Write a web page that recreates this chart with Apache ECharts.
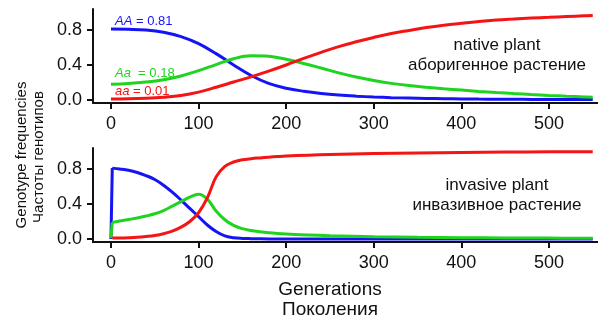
<!DOCTYPE html>
<html lang="en">
<head>
    <meta charset="UTF-8">
    <title>Genotype frequencies</title>
    <script src="https://cdn.jsdelivr.net/npm/echarts@6/dist/echarts.min.js"></script>
    <style>
        html, body { margin: 0; padding: 0; background: #fff; }
    </style>
</head>
<body>
<div id="chart" style="width: 598px;height:320px;"></div>

<script type="text/javascript">
    // native plant (top panel)
    var nativeGen = [0, 20, 40, 60, 80, 100, 120, 140, 160, 180, 200, 220, 240, 260, 280, 300, 320, 340, 360, 380, 400, 420, 440, 460, 480, 500, 520, 540, 550];
    var nativeAA = [0.81, 0.808, 0.80, 0.775, 0.725, 0.645, 0.53, 0.40, 0.28, 0.19, 0.135, 0.10, 0.075, 0.057, 0.044, 0.034, 0.027, 0.022, 0.018, 0.015, 0.012, 0.010, 0.009, 0.008, 0.007, 0.006, 0.005, 0.005, 0.005];
    var nativeAa = [0.18, 0.188, 0.205, 0.232, 0.275, 0.335, 0.405, 0.472, 0.505, 0.50, 0.465, 0.418, 0.365, 0.31, 0.262, 0.222, 0.19, 0.165, 0.145, 0.128, 0.113, 0.098, 0.085, 0.073, 0.062, 0.052, 0.043, 0.035, 0.031];
    var nativeaa = [0.01, 0.013, 0.02, 0.032, 0.052, 0.09, 0.145, 0.205, 0.265, 0.33, 0.40, 0.475, 0.545, 0.61, 0.665, 0.715, 0.76, 0.795, 0.828, 0.855, 0.877, 0.897, 0.913, 0.925, 0.936, 0.945, 0.954, 0.962, 0.965];

    // invasive plant (bottom panel); the first generation jumps from the start values
    var invStartGen = [0, 1.5];
    var invStartAA = [0.0, 0.81];
    var invStartAa = [0.01, 0.19];
    var invGen = [1.5, 10, 20, 30, 40, 50, 60, 70, 80, 90, 100, 110, 120, 130, 140, 150, 160, 170, 180, 190, 200, 225, 250, 300, 350, 400, 450, 500, 550];
    var invAA = [0.81, 0.80, 0.785, 0.76, 0.725, 0.68, 0.615, 0.535, 0.445, 0.35, 0.255, 0.16, 0.085, 0.035, 0.015, 0.007, 0.004, 0.002, 0.001, 0.001, 0.0, 0.0, 0.0, 0.0, 0.0, 0.0, 0.0, 0.0, 0.0];
    var invAa = [0.19, 0.205, 0.222, 0.24, 0.262, 0.288, 0.325, 0.375, 0.428, 0.478, 0.51, 0.455, 0.32, 0.22, 0.155, 0.118, 0.097, 0.083, 0.072, 0.064, 0.058, 0.046, 0.038, 0.027, 0.02, 0.015, 0.012, 0.01, 0.008];
    var invaa = [0.01, 0.011, 0.014, 0.019, 0.028, 0.04, 0.06, 0.09, 0.135, 0.20, 0.30, 0.47, 0.71, 0.83, 0.88, 0.905, 0.918, 0.927, 0.935, 0.942, 0.948, 0.958, 0.966, 0.977, 0.984, 0.989, 0.993, 0.996, 0.998];

    var xTicks = [0, 100, 200, 300, 400, 500];
    var yTicks = [0, 0.4, 0.8];

    var blue = '#1414f5', green = '#1fd41f', red = '#f51414';
    var font = '"Liberation Sans", Arial, sans-serif';

    function pairs(xs, ys) {
        return xs.map(function (x, i) { return [x, ys[i]]; });
    }

    function line(name, xi, gen, vals, color, smooth) {
        return {
            name: name, type: 'line', xAxisIndex: xi, yAxisIndex: xi,
            data: pairs(gen, vals), showSymbol: false, smooth: smooth,
            lineStyle: { color: color, width: 3 }, itemStyle: { color: color }
        };
    }

    function xAxis(gridIndex) {
        return {
            type: 'value', gridIndex: gridIndex, min: -20.5, max: 556,
            splitLine: { show: false },
            axisLine: { show: true, onZero: false, lineStyle: { color: '#111', width: 2 } },
            axisTick: { show: true, customValues: xTicks, length: 6, lineStyle: { color: '#111', width: 2 } },
            axisLabel: { customValues: xTicks, margin: 12, fontSize: 18, color: '#111', fontFamily: font }
        };
    }

    function yAxis(gridIndex) {
        return {
            type: 'value', gridIndex: gridIndex, min: -0.0343, max: 1.04,
            splitLine: { show: false },
            axisLine: { show: true, onZero: false, lineStyle: { color: '#111', width: 2 } },
            axisTick: { show: true, customValues: yTicks, length: 6, lineStyle: { color: '#111', width: 2 } },
            axisLabel: {
                customValues: yTicks, margin: 11, fontSize: 18, color: '#111', fontFamily: font,
                formatter: function (v) { return v.toFixed(1); }
            }
        };
    }

    function txt(x, y, text, size, color, rot) {
        return {
            type: 'text', x: x, y: y, rotation: rot || 0,
            style: {
                text: text, fill: color || '#111', fontSize: size, fontFamily: font,
                textAlign: 'center', textVerticalAlign: 'middle'
            }
        };
    }

    function geno(y, text, color) {
        return {
            type: 'text', x: 115, y: y,
            style: {
                text: text, fill: color, fontSize: 13, fontFamily: font,
                textAlign: 'left', textVerticalAlign: 'middle',
                rich: { i: { fontStyle: 'italic', fill: color, fontSize: 13, fontFamily: font } }
            }
        };
    }

    var myChart = echarts.init(document.getElementById('chart'));
    var option = {
        animation: false,
        backgroundColor: '#fff',
        grid: [
            { left: 93, top: 9, width: 505, height: 94 },
            { left: 93, top: 148, width: 505, height: 94 }
        ],
        xAxis: [xAxis(0), xAxis(1)],
        yAxis: [yAxis(0), yAxis(1)],
        series: [
            line('AA', 0, nativeGen, nativeAA, blue, 0.4),
            line('Aa', 0, nativeGen, nativeAa, green, 0.4),
            line('aa', 0, nativeGen, nativeaa, red, 0.4),
            line('AA', 1, invStartGen, invStartAA, blue, false),
            line('Aa', 1, invStartGen, invStartAa, green, false),
            line('AA', 1, invGen, invAA, blue, 0.4),
            line('Aa', 1, invGen, invAa, green, 0.4),
            line('aa', 1, invGen.slice(0), invaa, red, 0.4)
        ],
        graphic: [
            txt(22, 155, 'Genotype frequencies', 15, '#111', Math.PI / 2),
            txt(39, 157, 'Частоты генотипов', 15, '#111', Math.PI / 2),
            txt(330, 290, 'Generations', 19),
            txt(330, 310, 'Поколения', 19),
            txt(497, 45, 'native plant', 17),
            txt(497, 65, 'аборигенное растение', 17),
            txt(497, 185, 'invasive plant', 17),
            txt(497, 205, 'инвазивное растение', 17),
            geno(21, '{i|AA} = 0.81', blue),
            geno(73, '{i|Aa}  = 0.18', green),
            geno(91, '{i|aa} = 0.01', red)
        ]
    };
    myChart.setOption(option);
</script>
</body>
</html>
